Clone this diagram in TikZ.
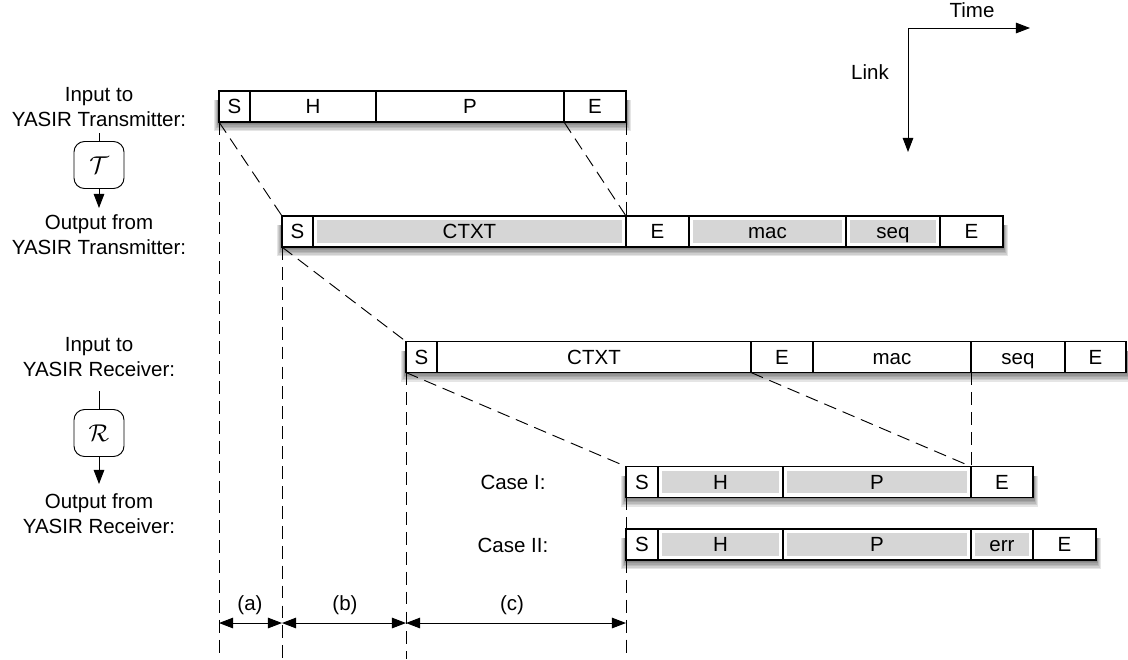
\documentclass[tikz,border=0pt]{standalone}
\usepackage{fontspec}
\setmainfont{Liberation Sans}
\usetikzlibrary{positioning,arrows.meta,backgrounds}

% soft shadow under one row of cells, from its first to its last cell
\newcommand{\rowshadow}[2]{%
  \foreach \k in {1,...,6}
    \fill[black,opacity=0.1] ([xshift=-\k*0.7pt,yshift=-\k*1.3pt]#1.south west)
      rectangle ([xshift=\k*0.7pt,yshift=-8pt]#2.north east);}

\begin{document}
\begin{tikzpicture}[x=0.03cm,y=-0.03cm,
  every node/.style={font=\fontsize{17.5}{21.3}\selectfont},
  cell/.style={draw,line width=1pt,fill=white,inner sep=0pt,outer sep=0pt,
    text height=16pt,text depth=3.5pt,
    minimum width=#1*0.03cm,minimum height=31*0.03cm},
  gcell/.style={cell=#1,path picture={\fill[black!16]
    ([shift={(3.6pt,3.6pt)}]path picture bounding box.south west) rectangle
    ([shift={(-3.6pt,-3.6pt)}]path picture bounding box.north east);}},
  lbl/.style={align=center},
  op/.style={draw,line width=0.8pt,rounded corners=9pt,inner sep=0pt,
    minimum width=50*0.03cm,minimum height=47*0.03cm,font=\fontsize{21}{24}\selectfont},
  cut/.style={line width=0.8pt,dash pattern=on 11pt off 6pt},
  tip/.style={line width=0.8pt,-{Triangle[length=12pt,width=9pt]}},
  dim/.style={line width=0.8pt,{Triangle[length=12pt,width=9pt]}-{Triangle[length=12pt,width=9pt]}}]
\useasboundingbox (0,0) rectangle (1128,659);

% labels on the left
\node[lbl] (tinl) at (99,107) {Input to\\YASIR Transmitter:};
\node[op] (tbox) at (99,165) {$\mathcal{T}$};
\node[lbl] (toutl) at (99,235) {Output from\\YASIR Transmitter:};
\node[lbl] (rinl) at (99,357.5) {Input to\\YASIR Receiver:};
\node[op] (rbox) at (99,433) {$\mathcal{R}$};
\node[lbl] (routl) at (99,514) {Output from\\YASIR Receiver:};
\coordinate (tin) at (99,133);
\coordinate (tout) at (99,208);
\coordinate (rin) at (99,391);
\coordinate (rout) at (99,484);
\draw[line width=0.8pt] (tin) -- (tbox);
\draw[tip] (tbox) -- (tout);
\draw[line width=0.8pt] (rin) -- (rbox);
\draw[tip] (rbox) -- (rout);

% time / link axes
\coordinate (ax) at (908,28);
\coordinate (tend) at (1030,28);
\coordinate (lend) at (908,152);
\draw[tip] (ax) -- (tend);
\draw[tip] (ax) -- (lend);
\node (time) at (972,10) {Time};
\node (link) at (870,72) {Link};

% input to transmitter
\node[cell=31,anchor=west] (as) at (219,106.5) {S};
\node[cell=126,right=0pt of as] (ah) {H};
\node[cell=188,right=0pt of ah] (ap) {P};
\node[cell=62,right=0pt of ap] (ae) {E};

% output from transmitter
\node[cell=31,anchor=west] (bs) at (282,231.5) {S};
\node[gcell=313,right=0pt of bs] (bc) {CTXT};
\node[cell=63,right=0pt of bc] (be) {E};
\node[gcell=157,right=0pt of be] (bm) {mac};
\node[gcell=94,right=0pt of bm] (bq) {seq};
\node[cell=63,right=0pt of bq] (bf) {E};

% input to receiver
\node[cell=31,anchor=west] (cs) at (406,357) {S};
\node[cell=314,right=0pt of cs] (cc) {CTXT};
\node[cell=62,right=0pt of cc] (ce) {E};
\node[cell=158,right=0pt of ce] (cm) {mac};
\node[cell=94,right=0pt of cm] (cq) {seq};
\node[cell=61,right=0pt of cq] (cf) {E};

% output from receiver
\node (case1) at (513,482) {Case I:};
\node[cell=32,anchor=west] (ds) at (626,482) {S};
\node[gcell=125,right=0pt of ds] (dh) {H};
\node[gcell=188,right=0pt of dh] (dp) {P};
\node[cell=62,right=0pt of dp] (de) {E};

\node (case2) at (513,545) {Case II:};
\node[cell=32,anchor=west] (es) at (626,544.5) {S};
\node[gcell=125,right=0pt of es] (eh) {H};
\node[gcell=188,right=0pt of eh] (ep) {P};
\node[gcell=62,right=0pt of ep] (er) {err};
\node[cell=63,right=0pt of er] (ee) {E};

\begin{scope}[on background layer]
\rowshadow{as}{ae}
\rowshadow{bs}{bf}
\rowshadow{cs}{cf}
\rowshadow{ds}{de}
\rowshadow{es}{ee}
\end{scope}

% dashed guides
\coordinate (g1) at (219,659);
\coordinate (g2) at (282,659);
\coordinate (g3) at (406,659);
\coordinate (g4) at (626,659);
\draw[cut] (as.south west) -- (g1);
\draw[cut] (as.south west) -- (bs.north west);
\draw[cut] (ae.south west) -- (be.north west);
\draw[cut] (ae.south east) -- (be.north west);
\draw[cut] (bs.south west) -- (g2);
\draw[cut] (bs.south west) -- (cs.north west);
\draw[cut] (cs.south west) -- (g3);
\draw[cut] (cs.south west) -- (ds.north west);
\draw[cut] (ce.south west) -- (de.north west);
\draw[cut] (cq.south west) -- (de.north west);
\draw[cut] (ds.south west) -- (es.north west);
\draw[cut] (es.south west) -- (g4);

% spans
\coordinate (da) at (219,623);
\coordinate (db) at (282,623);
\coordinate (dc) at (406,623);
\coordinate (dd) at (626,623);
\draw[dim] (da) -- (db);
\draw[dim] (db) -- (dc);
\draw[dim] (dc) -- (dd);
\node (la) at (250,605) {(a)};
\node (lb) at (345,605) {(b)};
\node (lc) at (512,605) {(c)};
\end{tikzpicture}
\end{document}
